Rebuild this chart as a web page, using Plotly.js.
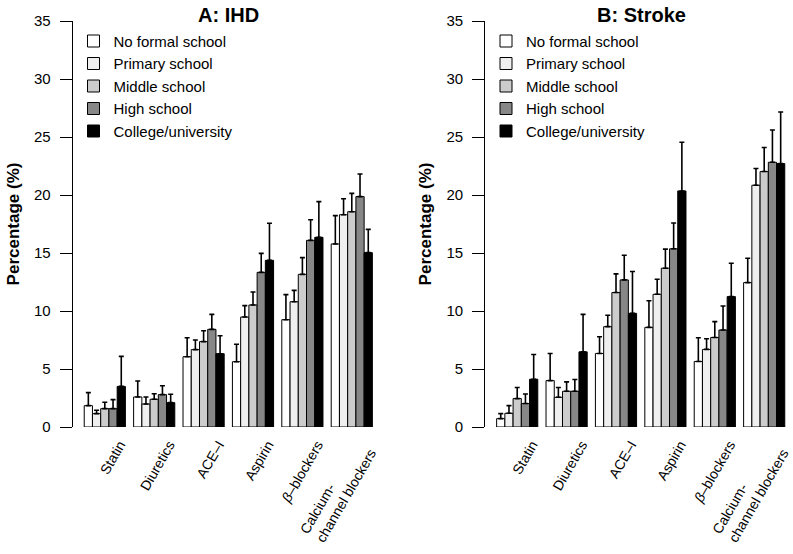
<!DOCTYPE html>
<html>
<head>
<meta charset="utf-8">
<script src="https://cdn.plot.ly/plotly-3.0.1.min.js"></script>
<style>html,body{margin:0;padding:0;background:#fff;}#chart{width:793px;height:554px;}</style>
</head>
<body>
<div id="chart"></div>
<script>
// Drug categories
const categories = ["Statin", "Diuretics", "ACE-I", "Aspirin", "beta-blockers", "Calcium-channel blockers"];
const tickLabels = ["Statin", "Diuretics", "ACE\u2013I", "Aspirin", "<i>\u03b2</i>\u2013blockers",
  "Calcium-" + "\u00a0".repeat(13) + "<br>channel blockers"];
const educationLevels = ["No formal school", "Primary school", "Middle school", "High school", "College/university"];

// Panel A: IHD – percentage (bar heights)
const ihdNoFormal = [1.84, 2.59, 6.06, 5.63, 9.25, 15.78];
const ihdPrimary  = [1.15, 1.98, 6.67, 9.48, 10.80, 18.30];
const ihdMiddle   = [1.58, 2.39, 7.36, 10.52, 13.16, 18.56];
const ihdHigh     = [1.58, 2.79, 8.42, 13.33, 16.09, 19.86];
const ihdCollege  = [3.50, 2.10, 6.32, 14.37, 16.35, 15.03];
// Panel A: IHD – upper confidence limits
const ihdNoFormalUp = [2.96, 3.97, 7.70, 7.13, 11.41, 18.22];
const ihdPrimaryUp  = [1.44, 2.59, 7.50, 10.46, 11.78, 19.68];
const ihdMiddleUp   = [2.13, 2.87, 8.30, 11.64, 14.60, 20.14];
const ihdHighUp     = [2.36, 3.56, 9.71, 14.97, 17.87, 21.81];
const ihdCollegeUp  = [6.09, 2.82, 7.87, 17.56, 19.43, 17.04];

// Panel B: Stroke – percentage (bar heights)
const strokeNoFormal = [0.72, 4.00, 6.34, 8.59, 5.65, 12.45];
const strokePrimary  = [1.18, 2.56, 8.65, 11.44, 6.69, 20.84];
const strokeMiddle   = [2.45, 3.08, 11.59, 13.69, 7.72, 22.02];
const strokeHigh     = [2.02, 3.08, 12.68, 15.36, 8.36, 22.82];
const strokeCollege  = [4.12, 6.48, 9.80, 20.35, 11.24, 22.71];
// Panel B: Stroke – upper confidence limits
const strokeNoFormalUp = [1.15, 6.34, 7.78, 10.89, 7.69, 14.55];
const strokePrimaryUp  = [1.84, 3.40, 9.63, 12.74, 7.61, 22.28];
const strokeMiddleUp   = [3.40, 3.89, 13.20, 15.33, 9.08, 24.09];
const strokeHighUp     = [2.85, 4.09, 14.81, 17.58, 10.43, 25.60];
const strokeCollegeUp  = [6.25, 9.71, 13.40, 24.55, 14.12, 27.15];

const fillColors = ["#ffffff", "#efefef", "#cccccc", "#878787", "#000000"];
const FONT = "Liberation Sans, Arial, Helvetica, sans-serif";

const ihdVals = [ihdNoFormal, ihdPrimary, ihdMiddle, ihdHigh, ihdCollege];
const ihdUps = [ihdNoFormalUp, ihdPrimaryUp, ihdMiddleUp, ihdHighUp, ihdCollegeUp];
const strokeVals = [strokeNoFormal, strokePrimary, strokeMiddle, strokeHigh, strokeCollege];
const strokeUps = [strokeNoFormalUp, strokePrimaryUp, strokeMiddleUp, strokeHighUp, strokeCollegeUp];

function makeTraces(vals, ups, xa, ya, legendId) {
  return vals.map((v, i) => ({
    type: "bar",
    name: educationLevels[i],
    x: categories,
    y: v,
    xaxis: xa,
    yaxis: ya,
    legend: legendId,
    marker: { color: fillColors[i], line: { color: "#000000", width: 1 } },
    error_y: {
      type: "data",
      symmetric: false,
      array: ups[i].map((u, k) => u - v[k]),
      arrayminus: v.map(() => 0),
      color: "#000000",
      thickness: 1.6,
      width: 2.5
    },
    hoverinfo: "name+y"
  }));
}

// Empty helper traces (no marks) so the overlaid label axes are created
function labelAxisHolder(xa, ya) {
  return { type: "scatter", mode: "markers", x: [categories.length - 1], y: [null],
           xaxis: xa, yaxis: ya, showlegend: false, hoverinfo: "skip", marker: { opacity: 0 } };
}

const data = [].concat(
  makeTraces(ihdVals, ihdUps, "x", "y", "legend"),
  makeTraces(strokeVals, strokeUps, "x2", "y2", "legend2"),
  [labelAxisHolder("x3", "y"), labelAxisHolder("x4", "y2")]
);

const W = 793, H = 554;
const yDomain = [(H - 427) / H, (H - 21) / H];
const tickFont = { family: FONT, size: 14, color: "#000000" };

// Main category axis: labels for the first five drug groups
function xAxis(domain, range) {
  return {
    domain: domain,
    range: range,
    type: "category",
    showline: false,
    showgrid: false,
    zeroline: false,
    ticks: "",
    tickangle: -60,
    tickvals: categories.slice(0, 5),
    ticktext: tickLabels.slice(0, 5),
    ticklabelshift: 15,
    ticklabelstandoff: 6,
    ticklabeloverflow: "allow",
    tickfont: tickFont
  };
}
// Overlaid axis carrying the two-line label of the last group
function xAxisLast(over, anchor, range) {
  return {
    overlaying: over,
    anchor: anchor,
    side: "bottom",
    type: "linear",
    range: range,
    showline: false,
    showgrid: false,
    zeroline: false,
    ticks: "",
    tickangle: -60,
    tickvals: [categories.length - 1],
    ticktext: [tickLabels[tickLabels.length - 1]],
    ticklabelshift: 3,
    ticklabelstandoff: 5,
    ticklabeloverflow: "allow",
    tickfont: tickFont
  };
}
function yAxis(anchor) {
  return {
    domain: yDomain,
    anchor: anchor,
    range: [0, 35],
    dtick: 5,
    tick0: 0,
    showline: true,
    linecolor: "#000000",
    linewidth: 1,
    showgrid: false,
    zeroline: false,
    ticks: "outside",
    ticklen: 12,
    tickwidth: 1,
    tickcolor: "#000000",
    ticklabelstandoff: 6,
    tickfont: { family: FONT, size: 15, color: "#000000" },
    title: { text: "<b>Percentage (%)</b>", standoff: 10, font: { family: FONT, size: 17, color: "#000000" } }
  };
}

const legendCommon = {
  xanchor: "left",
  yanchor: "top",
  bgcolor: "rgba(0,0,0,0)",
  borderwidth: 0,
  font: { family: FONT, size: 15, color: "#000000" },
  tracegroupgap: 0
};

const rangeA = [-0.65, 5.65];
const rangeB = [-0.65, 5.583];

const layout = {
  width: W,
  height: H,
  margin: { l: 0, r: 0, t: 0, b: 0 },
  paper_bgcolor: "#ffffff",
  plot_bgcolor: "#ffffff",
  font: { family: FONT, color: "#000000" },
  barmode: "group",
  bargap: 1 / 6,
  bargroupgap: 0,
  xaxis: xAxis([72.7 / W, 383.9 / W], rangeA),
  yaxis: yAxis("x"),
  xaxis2: xAxis([485.1 / W, 1], rangeB),
  yaxis2: yAxis("x2"),
  xaxis3: xAxisLast("x", "y", rangeA),
  xaxis4: xAxisLast("x2", "y2", rangeB),
  legend: Object.assign({ x: 73.5 / W, y: 1 - 24.75 / H }, legendCommon),
  legend2: Object.assign({ x: 486 / W, y: 1 - 24.75 / H }, legendCommon),
  annotations: [
    { text: "<b>A: IHD</b>", xref: "paper", yref: "paper", x: 228.3 / W, y: 1 - 14.5 / H,
      xanchor: "center", yanchor: "middle", showarrow: false, font: { family: FONT, size: 20, color: "#000000" } },
    { text: "<b>B: Stroke</b>", xref: "paper", yref: "paper", x: 641 / W, y: 1 - 14.5 / H,
      xanchor: "center", yanchor: "middle", showarrow: false, font: { family: FONT, size: 20, color: "#000000" } }
  ],
  showlegend: true
};

Plotly.newPlot("chart", data, layout, { displayModeBar: false, staticPlot: true });
</script>
</body>
</html>
